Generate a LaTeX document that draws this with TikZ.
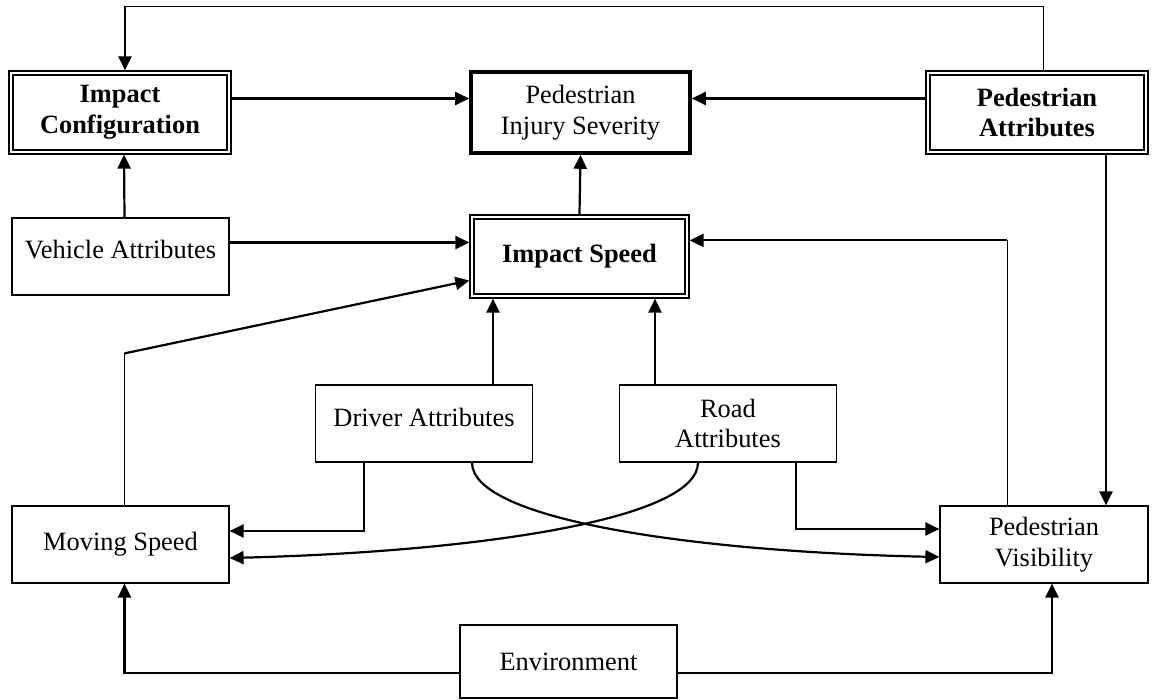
\documentclass[tikz,border=0pt]{standalone}
\usepackage{fontspec}
\setmainfont{Liberation Serif}
\usetikzlibrary{arrows.meta}

\begin{document}
\begin{tikzpicture}[x=0.5pt,y=-0.5pt,
    box/.style={draw,line width=0.6pt,inner sep=0pt,align=center,
      font=\fontsize{13.2}{15.3}\selectfont,
      minimum width=108.5pt,minimum height=38.5pt},
    keybox/.style={box,font=\fontsize{13.2}{15.3}\selectfont\bfseries,
      minimum width=111pt,minimum height=41.5pt},
    arr/.style={line width=1.1pt,-{Triangle[length=7pt,width=6.5pt]}},
    link/.style={line width=0.5pt}]
   \useasboundingbox[fill=white] (0,0) rectangle (1153,700);

   % boxes
   \node[keybox](ic) at (120,112.5) {Impact\\Configuration};
   \node[box,line width=1.8pt,minimum width=109.5pt,minimum height=40.5pt]
      (pis) at (580.5,112.5) {Pedestrian\\Injury Severity};
   \node[keybox](pa) at (1037,112.5) {Pedestrian\\Attributes};
   \node[box,text depth=7pt](va) at (120.5,256.5) {Vehicle Attributes};
   \node[keybox,minimum width=109.5pt](is) at (579.5,256.5) {Impact Speed};
   \node[box,text depth=6pt](da) at (424,423.5) {Driver Attributes};
   \node[box](ra) at (728,423.5) {Road\\Attributes};
   \node[box](ms) at (120.5,544.5) {Moving Speed};
   \node[box,minimum width=104pt](pv) at (1044,544.5) {Pedestrian\\Visibility};
   \node[box,minimum height=36.5pt](en) at (568.5,661.5) {Environment};

   % inner frames
   \foreach \n in {ic,pa,is}
      \draw[line width=1.2pt]
         ([shift={(2.2pt,-2.2pt)}]\n.north west) rectangle
         ([shift={(-2.2pt,2.2pt)}]\n.south east);

   % top row
   \path ([xshift=2.5pt]ic.north) ++(0,-64) coordinate (ictop);
   \draw[link] ([xshift=3pt]pa.north) |- (ictop);
   \draw[arr] (ictop) -- ([xshift=2.5pt]ic.north);
   \draw[arr] ([yshift=7pt]ic.east) -- ([yshift=7pt]pis.west);
   \draw[arr] ([yshift=7pt]pa.west) -- ([yshift=7pt]pis.east);
   \draw[arr] (is.north) -- (pis.south);
   \draw[arr] ([xshift=2pt]va.north) -- ([xshift=2pt]ic.south);

   % into impact speed
   \draw[arr] ([yshift=7pt]va.east) -- ([yshift=7pt]is.west);
   \draw[link] ([xshift=2pt]ms.north) -- ++(0,-152) coordinate (msk);
   \draw[arr] (msk) -- ([yshift=-12pt]is.west);
   \draw[link] ([xshift=-18.5pt]pv.north) -- ++(0,-265) coordinate (pvk);
   \draw[arr] (pvk) -- (pvk -| is.east);
   \coordinate (dau) at ([xshift=34.5pt]da.north);
   \draw[arr] (dau) -- (dau |- is.south);
   \coordinate (rau) at ([xshift=-36.5pt]ra.north);
   \draw[arr] (rau) -- (rau |- is.south);

   \coordinate (pad) at ([xshift=34.5pt]pa.south);
   \draw[arr] (pad) -- (pad |- pv.north);

   % driver and road
   \draw[arr] ([xshift=-30pt]da.south) |- ([yshift=6.75pt]ms.east);
   \draw[arr] ([xshift=34pt]ra.south) |- ([yshift=7.75pt]pv.west);
   \draw[arr] ([xshift=24pt]da.south)
      .. controls +(0,58) and +(-240,-5) .. ([yshift=-6.25pt]pv.west);
   \draw[arr] ([xshift=-15pt]ra.south)
      .. controls +(0,58) and +(240,-6) .. ([yshift=-6.75pt]ms.east);

   % environment
   \draw[arr] ([yshift=-5.75pt]en.west) -| ([xshift=2pt]ms.south);
   \draw[arr] ([yshift=-5.75pt]en.east) -| ([xshift=4pt]pv.south);
\end{tikzpicture}
\end{document}
